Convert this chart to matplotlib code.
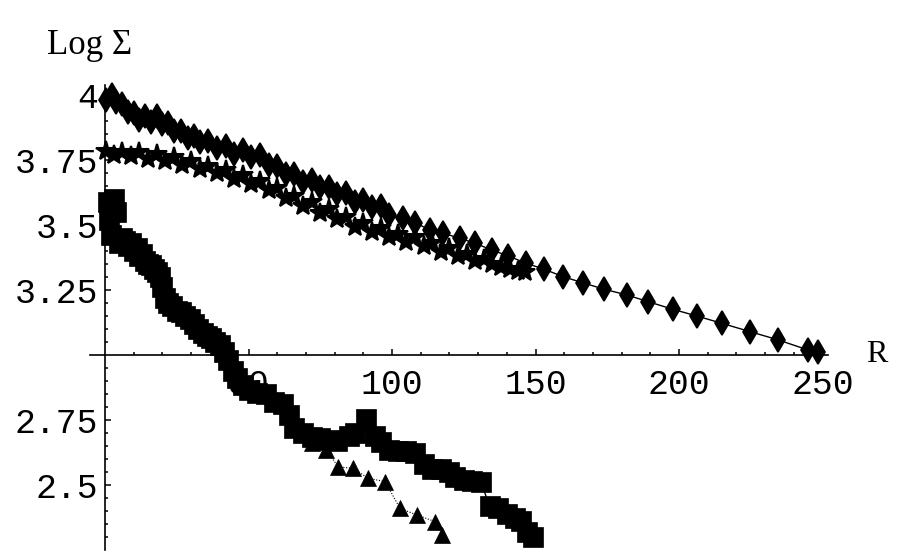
"""
Surface density profiles, Log Sigma against R, drawn in the old Mathematica
ListPlot look: axes crossing at (0, 3), courier tick labels, black markers.
Writes out.png (900x559).
"""
import matplotlib

matplotlib.use("Agg")
import matplotlib.pyplot as plt
from matplotlib.ticker import FixedLocator, FixedFormatter

# diamonds, joined by a thin line (top profile)
DIAMOND_R = [0.5, 2.4, 4, 6, 8, 10, 12, 14, 16, 18,
             20, 22, 24, 26.5, 29, 31, 33, 36, 39, 42,
             45, 48, 51, 54, 57, 60, 63, 66, 69, 72,
             75, 78, 81, 84, 87, 90, 93, 96, 99, 103.9,
             108, 113.2, 117.9, 123.7, 128.9, 134.7, 140.5, 146.7, 153, 159.7,
             166.4, 173.9, 181.8, 189.3, 197.8, 206.2, 214.9, 224.7, 234.6, 245.0,
             248.5]
DIAMOND_LOG = [3.98, 4.0, 3.975, 3.965, 3.935, 3.932, 3.905, 3.918, 3.895, 3.918,
               3.89, 3.893, 3.86, 3.863, 3.835, 3.843, 3.82, 3.823, 3.795, 3.803,
               3.775, 3.788, 3.76, 3.768, 3.73, 3.728, 3.695, 3.698, 3.665, 3.673,
               3.645, 3.648, 3.62, 3.623, 3.59, 3.598, 3.57, 3.573, 3.54, 3.526,
               3.509, 3.481, 3.468, 3.449, 3.43, 3.404, 3.381, 3.353, 3.33, 3.301,
               3.278, 3.253, 3.231, 3.205, 3.176, 3.15, 3.122, 3.09, 3.058, 3.019,
               3.013]

# stars (second profile, merges with the diamonds past R ~ 100)
STAR_R = [0.5, 3, 6, 9, 12, 15, 18, 21, 24, 27,
          30, 33, 36, 39, 42, 45, 48, 51, 54, 57,
          60, 63, 66, 69, 72, 75, 78, 81, 84, 87,
          90, 93, 96, 99, 102, 105, 108, 111, 114, 117,
          120, 123, 126, 129, 132, 135, 138, 141, 144, 146.5]
STAR_LOG = [3.785, 3.768, 3.782, 3.765, 3.782, 3.755, 3.772, 3.745, 3.762, 3.732,
            3.747, 3.715, 3.728, 3.70, 3.712, 3.678, 3.692, 3.658, 3.67, 3.633,
            3.642, 3.603, 3.612, 3.573, 3.587, 3.548, 3.56, 3.523, 3.532, 3.493,
            3.507, 3.473, 3.487, 3.453, 3.467, 3.435, 3.452, 3.418, 3.432, 3.398,
            3.41, 3.38, 3.39, 3.36, 3.37, 3.35, 3.34, 3.332, 3.325, 3.32]

# squares (steep inner profile)
SQUARE_R = [1, 1.5, 2, 3, 4, 5, 6, 7, 8, 9,
            10, 11, 12, 13, 14, 15, 16, 17, 18, 19,
            20, 21, 22, 23.5, 25, 26.5, 28, 29.5, 31, 32.5,
            34, 35.5, 37, 38.5, 40, 41.5, 43, 44.5, 46, 48,
            50, 53, 56, 59, 62, 64, 66, 69, 72, 75,
            78, 81, 85, 87, 91, 94, 96, 99, 102, 105,
            108, 111, 114, 117, 120, 122, 125, 128, 131, 134,
            137, 140, 143, 145, 147, 149]
SQUARE_LOG = [3.59, 3.52, 3.46, 3.60, 3.55, 3.43, 3.45, 3.44, 3.42, 3.43,
              3.40, 3.41, 3.38, 3.39, 3.36, 3.35, 3.345, 3.33, 3.32, 3.30,
              3.26, 3.22, 3.20, 3.19, 3.17, 3.165, 3.15, 3.14, 3.12, 3.10,
              3.085, 3.075, 3.065, 3.05, 3.04, 3.01, 2.98, 2.94, 2.91, 2.885,
              2.865, 2.855, 2.85, 2.82, 2.81, 2.77, 2.72, 2.70, 2.685, 2.68,
              2.675, 2.67, 2.69, 2.70, 2.755, 2.69, 2.665, 2.635, 2.63, 2.63,
              2.625, 2.58, 2.56, 2.56, 2.55, 2.53, 2.52, 2.515, 2.51, 2.42,
              2.41, 2.39, 2.375, 2.36, 2.32, 2.30]

# triangles (outer part only, first ones hidden under the squares)
TRI_R = [72, 77, 81.3, 86.5, 91.7, 97.6, 102.8, 108.6, 115, 117.3]
TRI_LOG = [2.66, 2.635, 2.57, 2.564, 2.526, 2.513, 2.41, 2.385, 2.359, 2.308]

X_TICKS = [50, 100, 150, 200, 250]
X_TICK_LABELS = ["50", "100", "150", "200", "250"]
Y_TICKS = [2.5, 2.75, 3.25, 3.5, 3.75, 4.0]
Y_TICK_LABELS = ["2.5", "2.75", "3.25", "3.5", "3.75", "4"]

MONO = "Liberation Mono"
SERIF = "Liberation Serif"


def main():
    fig = plt.figure(figsize=(9, 5.59), dpi=100)
    ax = fig.add_axes([0, 0, 1, 1])
    ax.set_facecolor("white")

    # pixel mapping of the reference: R=0 at x=105 px, 2.87 px per unit;
    # Log=3 at y=355 px, 260 px per unit
    ax.set_xlim(-105 / 2.87, 795 / 2.87)
    ax.set_ylim(3 - 204 / 260, 3 + 355 / 260)

    ax.plot(DIAMOND_R, DIAMOND_LOG, color="black", lw=1.0,
            marker="d", ms=12, mew=1.2, mec="black")
    ax.plot(STAR_R, STAR_LOG, color="black", lw=1.0,
            marker="*", ms=15, mew=1.5, mec="black")
    ax.plot(SQUARE_R, SQUARE_LOG, color="black", lw=1.0,
            marker="s", ms=14, mew=0.5, mec="black")
    ax.plot(TRI_R, TRI_LOG, color="black", lw=0.8, ls=(0, (1, 1.5)),
            marker="^", ms=11, mew=0.5, mec="black")

    for side in ("top", "right"):
        ax.spines[side].set_visible(False)
    ax.spines["left"].set_position(("data", 0))
    ax.spines["bottom"].set_position(("data", 3))
    ax.spines["left"].set_bounds(2.25, 4.04)
    ax.spines["bottom"].set_bounds(-5.2, 252)
    for side in ("left", "bottom"):
        ax.spines[side].set_linewidth(1.2)

    ax.xaxis.set_major_locator(FixedLocator(X_TICKS))
    ax.xaxis.set_major_formatter(FixedFormatter(X_TICK_LABELS))
    ax.xaxis.set_minor_locator(FixedLocator(
        [v for v in range(10, 250, 10) if v % 50]))
    ax.yaxis.set_major_locator(FixedLocator(Y_TICKS))
    ax.yaxis.set_major_formatter(FixedFormatter(Y_TICK_LABELS))
    ax.yaxis.set_minor_locator(FixedLocator(
        [2.25 + 0.05 * i for i in range(36) if i % 5]))

    ax.tick_params(which="both", direction="in", color="black", width=1.1)
    ax.tick_params(which="major", length=4)
    ax.tick_params(which="minor", length=2.5)
    ax.tick_params(axis="x", which="major", pad=9)
    ax.tick_params(axis="y", which="major", pad=5)
    for lab in ax.get_xticklabels() + ax.get_yticklabels():
        lab.set_family(MONO)
        lab.set_fontsize(25)

    fig.text(47 / 900, 1 - 46 / 559, "Log \u03a3", family=SERIF, fontsize=25,
             ha="left", va="center")
    fig.text(866 / 900, 1 - 355 / 559, "R", family=SERIF, fontsize=23,
             ha="left", va="center")

    fig.savefig("out.png", dpi=100, facecolor="white")
    plt.close(fig)


if __name__ == "__main__":
    main()
